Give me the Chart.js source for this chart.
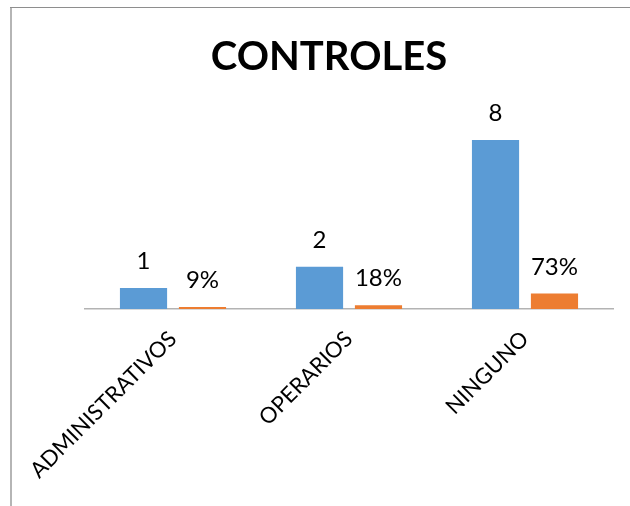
<!DOCTYPE html>
<html>
<head>
<meta charset="utf-8">
<script src="https://cdn.jsdelivr.net/npm/chart.js@4/dist/chart.umd.min.js"></script>
<style>
  html, body { margin: 0; padding: 0; background: #fff; }
  #wrap { width: 630px; height: 506px; }
</style>
</head>
<body>
<div id="wrap"><canvas id="chart" width="630" height="506"></canvas></div>
<script>
// Datos del gráfico
const categorias = ["ADMINISTRATIVOS", "OPERARIOS", "NINGUNO"];
const cantidades = [1, 2, 8];
const porcentajes = [0.09, 0.18, 0.73];
const titulo = "CONTROLES";

const FUENTE = "Lato, 'Open Sans', sans-serif";

// Marco gris y título del gráfico
const marco = {
  id: 'marco',
  beforeDraw(chart) {
    const c = chart.ctx;
    c.save();
    c.fillStyle = '#ffffff';
    c.fillRect(0, 0, chart.width, chart.height);
    c.strokeStyle = '#b5b5b5';
    c.lineWidth = 2;
    c.beginPath();
    c.moveTo(11, 7);
    c.lineTo(11, chart.height);
    c.stroke();
    c.strokeStyle = '#8e8e8e';
    c.lineWidth = 1;
    c.beginPath();
    c.moveTo(10, 7.5);
    c.lineTo(chart.width, 7.5);
    c.stroke();

    c.font = 'bold 40px ' + FUENTE;
    c.fillStyle = '#000';
    c.textAlign = 'center';
    c.textBaseline = 'alphabetic';
    c.fillText(titulo, 329, 70);
    c.restore();
  }
};

// Etiquetas de valor encima de cada barra
const etiquetas = {
  id: 'etiquetas',
  afterDatasetsDraw(chart) {
    const c = chart.ctx;
    c.save();
    c.font = '24px ' + FUENTE;
    c.fillStyle = '#000';
    c.textAlign = 'center';
    c.textBaseline = 'alphabetic';
    chart.data.datasets.forEach((ds, i) => {
      chart.getDatasetMeta(i).data.forEach((bar, j) => {
        const v = ds.data[j];
        const txt = i === 0 ? String(v) : Math.round(v * 100) + '%';
        c.fillText(txt, bar.x, bar.y - 19);
      });
    });
    c.restore();
  }
};

const ctx = document.getElementById('chart').getContext('2d');
new Chart(ctx, {
  type: 'bar',
  data: {
    labels: categorias,
    datasets: [
      { label: 'Cantidad', data: cantidades, backgroundColor: '#5B9BD5' },
      { label: 'Porcentaje', data: porcentajes, backgroundColor: '#ED7D31' }
    ]
  },
  options: {
    responsive: false,
    animation: false,
    categoryPercentage: 0.67,
    barPercentage: 0.8,
    layout: { padding: { left: 85, right: 17, top: 119, bottom: 0 } },
    plugins: {
      legend: { display: false },
      tooltip: { enabled: false },
      title: { display: false }
    },
    scales: {
      y: { display: false, min: 0, max: 9 },
      x: {
        grid: { display: false, drawTicks: false },
        border: { display: true, color: '#b3b3b3', width: 1.5 },
        ticks: {
          color: '#000',
          font: { family: FUENTE, size: 22 },
          minRotation: 45,
          maxRotation: 45,
          padding: 17
        },
        afterFit(scale) { scale.height = 197; }
      }
    }
  },
  plugins: [marco, etiquetas]
});
</script>
</body>
</html>
